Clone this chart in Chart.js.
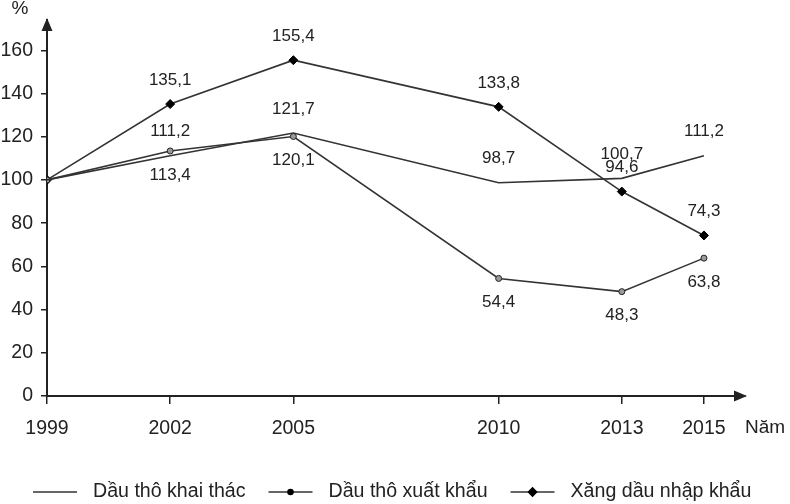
<!DOCTYPE html>
<html><head><meta charset="utf-8">
<script src="https://cdn.jsdelivr.net/npm/chart.js@4.4.0/dist/chart.umd.min.js"></script>
<style>html,body{margin:0;padding:0;background:#fff;}#wrap{width:790px;height:504px;position:relative;}</style>
</head><body><div id="wrap"><canvas id="c" width="790" height="504"></canvas></div>
<script>
const years = [1999, 2002, 2005, 2010, 2013, 2015];
const khaiThac = [100, 111.2, 121.7, 98.7, 100.7, 111.2];
const xuatKhau = [100, 113.4, 120.1, 54.4, 48.3, 63.8];
const nhapKhau = [100, 135.1, 155.4, 133.8, 94.6, 74.3];
const yTicks = [0, 20, 40, 60, 80, 100, 120, 140, 160];
const seriesNames = ['Dầu thô khai thác', 'Dầu thô xuất khẩu', 'Xăng dầu nhập khẩu'];
const labelPlacement = ['above', 'below', 'above'];
const yUnit = '%';
const xUnit = 'Năm';

const FONT = '"Liberation Sans", Arial, sans-serif';
const INK = '#222';
const LINE = '#333';

const toPts = arr => arr.map((v, i) => ({x: years[i], y: v}));

const datasets = [
  {label: seriesNames[0], data: toPts(khaiThac), borderColor: LINE, borderWidth: 1.6, pointRadius: 0, pointHoverRadius: 0, legendMarker: null},
  {label: seriesNames[1], data: toPts(xuatKhau), borderColor: LINE, borderWidth: 1.6, pointStyle: 'circle', pointRadius: 3, pointBackgroundColor: '#9a9a9a', pointBorderColor: '#222', pointBorderWidth: 1, legendMarker: {style: 'circle', r: 2.5}},
  {label: seriesNames[2], data: toPts(nhapKhau), borderColor: LINE, borderWidth: 1.6, pointStyle: 'rectRot', pointRadius: 4.5, pointBackgroundColor: '#000', pointBorderColor: '#000', pointBorderWidth: 1, legendMarker: {style: 'rectRot', r: 4}}
];

const fmt = v => String(v).replace('.', ',');

const decor = {
  id: 'decor',
  afterDatasetsDraw(chart) {
    const ctx = chart.ctx;
    const a = chart.chartArea;
    ctx.save();
    // arrows
    ctx.fillStyle = INK;
    ctx.beginPath();
    ctx.moveTo(a.left, a.top - 2);
    ctx.lineTo(a.left - 5.5, a.top + 11);
    ctx.lineTo(a.left + 5.5, a.top + 11);
    ctx.closePath(); ctx.fill();
    ctx.beginPath();
    ctx.moveTo(a.right + 2, a.bottom);
    ctx.lineTo(a.right - 11, a.bottom - 5.5);
    ctx.lineTo(a.right - 11, a.bottom + 5.5);
    ctx.closePath(); ctx.fill();
    // unit labels
    ctx.font = '19px ' + FONT;
    ctx.textAlign = 'center'; ctx.textBaseline = 'middle';
    ctx.fillText(yUnit, 20, 9);
    ctx.textAlign = 'left';
    ctx.fillText(xUnit, a.right, 428);
    // data labels
    ctx.font = '17px ' + FONT;
    ctx.textAlign = 'center';
    chart.data.datasets.forEach((ds, di) => {
      const meta = chart.getDatasetMeta(di);
      meta.data.forEach((pt, i) => {
        if (i === 0) return;
        const dy = labelPlacement[di] === 'above' ? -24 : 24;
        ctx.fillText(fmt(ds.data[i].y), pt.x, pt.y + dy);
      });
    });
    // legend
    const ly = 492;
    let x = 33;
    ctx.font = '19.6px ' + FONT;
    ctx.textAlign = 'left';
    chart.data.datasets.forEach(ds => {
      ctx.strokeStyle = LINE; ctx.lineWidth = 1.6;
      ctx.beginPath(); ctx.moveTo(x, ly); ctx.lineTo(x + 44, ly); ctx.stroke();
      if (ds.legendMarker) {
        ctx.fillStyle = '#000'; ctx.strokeStyle = '#000';
        Chart.helpers.drawPoint(ctx, {pointStyle: ds.legendMarker.style, radius: ds.legendMarker.r, borderWidth: 1, rotation: 0}, x + 22, ly);
      }
      ctx.fillStyle = INK;
      const tx = x + 44 + 16;
      ctx.fillText(ds.label, tx, ly);
      x = tx + ctx.measureText(ds.label).width + 23;
    });
    ctx.restore();
  }
};

new Chart(document.getElementById('c'), {
  type: 'line',
  data: {datasets},
  options: {
    responsive: false,
    animation: false,
    devicePixelRatio: 1,
    layout: {padding: {left: 0, right: 45, top: 20, bottom: 0}},
    plugins: {legend: {display: false}, tooltip: {enabled: false}},
    elements: {line: {tension: 0}},
    scales: {
      x: {
        type: 'linear', min: 1999, max: 2016,
        afterBuildTicks: s => { s.ticks = years.map(v => ({value: v})); },
        afterFit: s => { s.height = 108; },
        ticks: {callback: v => String(v), font: {family: FONT, size: 19.5}, color: INK, padding: 13, maxRotation: 0, autoSkip: false},
        grid: {drawOnChartArea: false, drawTicks: true, tickLength: 8, color: INK, lineWidth: 1.5},
        border: {display: true, color: INK, width: 2}
      },
      y: {
        type: 'linear', min: 0, max: 174,
        afterBuildTicks: s => { s.ticks = yTicks.map(v => ({value: v})); },
        afterFit: s => { s.width = 47; },
        ticks: {callback: v => String(v), font: {family: FONT, size: 19.5}, color: INK, padding: 8},
        grid: {drawOnChartArea: false, drawTicks: true, tickLength: 6, color: INK, lineWidth: 1.5},
        border: {display: true, color: INK, width: 2}
      }
    }
  },
  plugins: [decor]
});
</script></body></html>
